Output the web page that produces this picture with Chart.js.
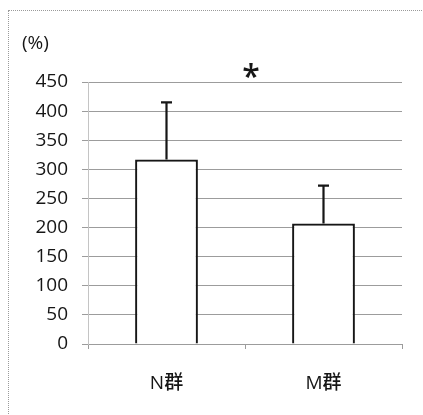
<!DOCTYPE html>
<html>
<head>
<meta charset="utf-8">
<script src="https://cdn.jsdelivr.net/npm/chart.js@4/dist/chart.umd.min.js"></script>
<style>
  html, body { margin: 0; padding: 0; background: #fff; }
  #wrap { position: relative; width: 423px; height: 415px; }
  #frame { position: absolute; left: 8px; top: 10px; width: 430px; height: 430px;
           border: 1px dotted #9a9a9a; box-sizing: border-box; pointer-events: none; }
  canvas { display: block; }
</style>
</head>
<body>
<div id="wrap">
  <canvas id="c" width="423" height="415"></canvas>
  <div id="frame"></div>
</div>
<script>
// Group labels and measured values (% of baseline)
const groups = ['N群', 'M群'];
const means = [317, 207];
const sds = [98, 65];
const yTicks = [0, 50, 100, 150, 200, 250, 300, 350, 400, 450];
const unitLabel = '(%)';
const sigMark = '*';

const FONT = '"Open Sans", "Noto Sans CJK JP", sans-serif';
const INK = '#161616';

// Upward-only error bars with a short cap
const errorBars = {
  id: 'errorBars',
  afterDatasetsDraw(chart) {
    const ctx = chart.ctx;
    const meta = chart.getDatasetMeta(0);
    const y = chart.scales.y;
    ctx.save();
    ctx.strokeStyle = INK;
    ctx.lineWidth = 2.2;
    meta.data.forEach((bar, i) => {
      const top = y.getPixelForValue(means[i] + sds[i]);
      const base = y.getPixelForValue(means[i]);
      ctx.beginPath();
      ctx.moveTo(bar.x, base);
      ctx.lineTo(bar.x, top);
      ctx.moveTo(bar.x - 5.5, top);
      ctx.lineTo(bar.x + 5.5, top);
      ctx.stroke();
    });
    ctx.restore();
  }
};

// Unit label and significance mark
const annotations = {
  id: 'annotations',
  afterDraw(chart) {
    const ctx = chart.ctx;
    const area = chart.chartArea;
    ctx.save();
    ctx.fillStyle = INK;
    ctx.font = '500 19px ' + FONT;
    ctx.textAlign = 'left';
    ctx.textBaseline = 'middle';
    ctx.fillText(unitLabel, 22, 44);
    ctx.font = '600 32px ' + FONT;
    ctx.textAlign = 'center';
    ctx.fillText(sigMark, (area.left + area.right) / 2 + 6, area.top - 3);
    ctx.restore();
  }
};

new Chart(document.getElementById('c'), {
  type: 'bar',
  data: {
    labels: groups,
    datasets: [{
      data: means,
      backgroundColor: '#ffffff',
      borderColor: INK,
      borderWidth: 2.2,
      borderSkipped: 'bottom',
      categoryPercentage: 1,
      barPercentage: 0.4
    }]
  },
  options: {
    responsive: false,
    animation: false,
    layout: { padding: { top: 82, right: 21, left: 0, bottom: 0 } },
    plugins: { legend: { display: false }, tooltip: { enabled: false } },
    scales: {
      x: {
        afterFit(s) { s.height = 71; },
        border: { color: '#9c9c9c', width: 1 },
        grid: { drawOnChartArea: false, drawTicks: true, tickLength: 5, color: '#9c9c9c' },
        ticks: { color: INK, font: { family: FONT, size: 19, weight: '500' }, padding: 23 }
      },
      y: {
        min: 0, max: 450,
        afterFit(s) { s.width = 88; },
        afterBuildTicks(s) { s.ticks = yTicks.map(v => ({ value: v })); },
        border: { color: '#c4c4c4', width: 1 },
        grid: { color: '#9c9c9c', lineWidth: 1, tickLength: 6, borderDash: [3, 1] },
        ticks: { color: INK, font: { family: FONT, size: 19, weight: '500' }, padding: 14 }
      }
    }
  },
  plugins: [errorBars, annotations]
});
</script>
</body>
</html>
